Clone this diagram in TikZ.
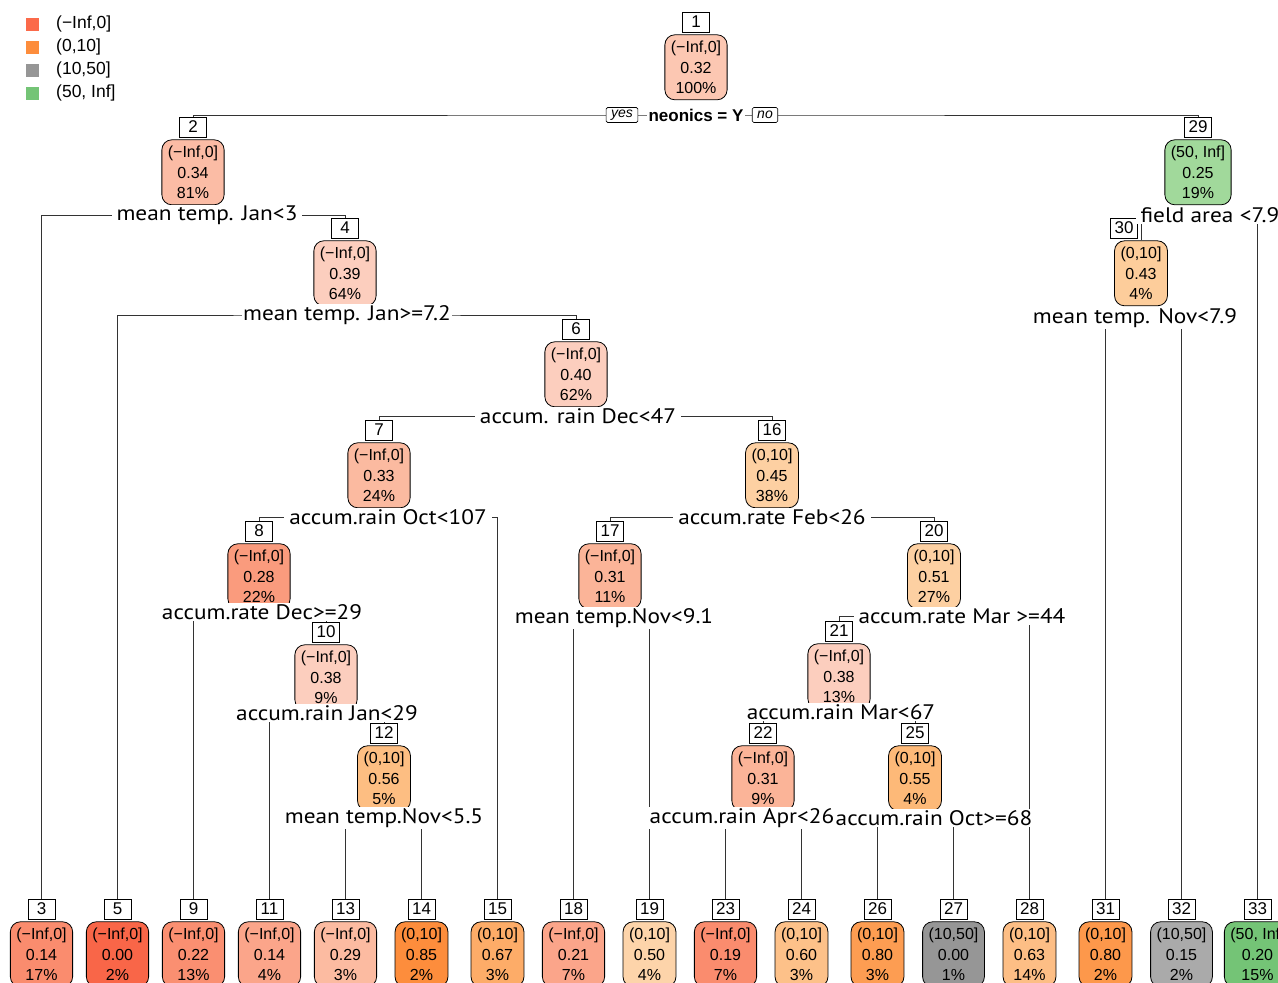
\documentclass[tikz,border=0pt]{standalone}
\usepackage{fontspec}
\setmainfont{Liberation Sans}
\newfontfamily\splitfont[FakeStretch=1.11]{PT Sans}
\usepackage{xcolor}
\usepackage{tikz}
\usetikzlibrary{backgrounds}

\definecolor{keyred}{RGB}{251,106,74}
\definecolor{keyorange}{RGB}{253,141,60}
\definecolor{keygrey}{RGB}{150,150,150}
\definecolor{keygreen}{RGB}{116,196,118}
\definecolor{fill1}{RGB}{252,199,178}
\definecolor{fill2}{RGB}{251,188,165}
\definecolor{fill4}{RGB}{252,206,190}
\definecolor{fill6}{RGB}{252,206,190}
\definecolor{fill7}{RGB}{251,186,160}
\definecolor{fill8}{RGB}{250,155,125}
\definecolor{fill10}{RGB}{252,206,190}
\definecolor{fill12}{RGB}{253,190,130}
\definecolor{fill16}{RGB}{253,208,162}
\definecolor{fill17}{RGB}{251,180,152}
\definecolor{fill20}{RGB}{253,208,162}
\definecolor{fill21}{RGB}{252,206,190}
\definecolor{fill22}{RGB}{251,180,152}
\definecolor{fill25}{RGB}{253,185,120}
\definecolor{fill29}{RGB}{161,217,155}
\definecolor{fill30}{RGB}{253,205,155}
\definecolor{fill3}{RGB}{250,140,110}
\definecolor{fill5}{RGB}{249,102,72}
\definecolor{fill9}{RGB}{250,143,113}
\definecolor{fill11}{RGB}{251,165,138}
\definecolor{fill13}{RGB}{252,187,161}
\definecolor{fill14}{RGB}{253,141,60}
\definecolor{fill15}{RGB}{253,172,104}
\definecolor{fill18}{RGB}{251,165,138}
\definecolor{fill19}{RGB}{253,212,170}
\definecolor{fill23}{RGB}{250,140,110}
\definecolor{fill24}{RGB}{253,193,137}
\definecolor{fill26}{RGB}{253,157,82}
\definecolor{fill27}{RGB}{150,150,150}
\definecolor{fill28}{RGB}{253,190,133}
\definecolor{fill31}{RGB}{253,152,75}
\definecolor{fill32}{RGB}{170,170,170}
\definecolor{fill33}{RGB}{116,196,118}

\begin{document}
\begin{tikzpicture}[x=1pt, y=-1pt,
  numbox/.style={draw, line width=0.8pt, fill=white, minimum width=27, minimum height=20, inner sep=1pt, font=\fontsize{17}{17}\selectfont},
  probbox/.style={draw, line width=0.8pt, rounded corners=10pt, minimum height=65, inner xsep=6pt, inner ysep=2pt, align=center, anchor=north, font=\fontsize{16}{20.5}\selectfont},
  splitlab/.style={fill=white, inner xsep=5pt, inner ysep=1pt, font=\splitfont\fontsize{21}{21}\selectfont},
  yesno/.style={draw, line width=0.6pt, fill=white, rounded corners=1.5pt, minimum height=15, inner xsep=5pt, inner ysep=1pt, font=\itshape\fontsize{14}{14}\selectfont},
  branch/.style={line width=0.9pt, draw=black!80},
  keybox/.style={minimum size=13, inner sep=0pt},
  keytext/.style={anchor=west, inner sep=3pt, font=\fontsize{17.5}{17.5}\selectfont}]
  \useasboundingbox (0,0) rectangle (1278,983);
  \clip (0,0) rectangle (1278,983);
  \node[keybox, fill=keyred] (k1) at (32.5,24) {};
  \node[keybox, fill=keyorange] (k2) at (32.5,47) {};
  \node[keybox, fill=keygrey] (k3) at (32.5,70) {};
  \node[keybox, fill=keygreen] (k4) at (32.5,93) {};
  \node[keytext] (t1) at (53,24) {(−Inf,0]};
  \node[keytext] (t2) at (53,47) {(0,10]};
  \node[keytext] (t3) at (53,70) {(10,50]};
  \node[keytext] (t4) at (53,93) {(50, Inf]};
  \node[numbox] (n1) at (696,22) {1};
  \node[probbox, fill=fill1] (b1) at ([yshift=-2pt]n1.south) {(−Inf,0]\\0.32\\100\%};
  \node[numbox] (n2) at (193,127) {2};
  \node[probbox, fill=fill2] (b2) at ([yshift=-2pt]n2.south) {(−Inf,0]\\0.34\\81\%};
  \node[numbox] (n4) at (345,228) {4};
  \node[probbox, fill=fill4] (b4) at ([yshift=-2pt]n4.south) {(−Inf,0]\\0.39\\64\%};
  \node[numbox] (n6) at (576,329) {6};
  \node[probbox, fill=fill6] (b6) at ([yshift=-2pt]n6.south) {(−Inf,0]\\0.40\\62\%};
  \node[numbox] (n7) at (379,430) {7};
  \node[probbox, fill=fill7] (b7) at ([yshift=-2pt]n7.south) {(−Inf,0]\\0.33\\24\%};
  \node[numbox] (n16) at (772,430) {16};
  \node[probbox, fill=fill16] (b16) at ([yshift=-2pt]n16.south) {(0,10]\\0.45\\38\%};
  \node[numbox] (n8) at (259,531) {8};
  \node[probbox, fill=fill8] (b8) at ([yshift=-2pt]n8.south) {(−Inf,0]\\0.28\\22\%};
  \node[numbox] (n17) at (610,531) {17};
  \node[probbox, fill=fill17] (b17) at ([yshift=-2pt]n17.south) {(−Inf,0]\\0.31\\11\%};
  \node[numbox] (n20) at (934,531) {20};
  \node[probbox, fill=fill20] (b20) at ([yshift=-2pt]n20.south) {(0,10]\\0.51\\27\%};
  \node[numbox] (n10) at (326,632) {10};
  \node[probbox, fill=fill10] (b10) at ([yshift=-2pt]n10.south) {(−Inf,0]\\0.38\\9\%};
  \node[numbox] (n21) at (839,631) {21};
  \node[probbox, fill=fill21] (b21) at ([yshift=-2pt]n21.south) {(−Inf,0]\\0.38\\13\%};
  \node[numbox] (n12) at (384,733) {12};
  \node[probbox, fill=fill12] (b12) at ([yshift=-2pt]n12.south) {(0,10]\\0.56\\5\%};
  \node[numbox] (n22) at (763,733) {22};
  \node[probbox, fill=fill22] (b22) at ([yshift=-2pt]n22.south) {(−Inf,0]\\0.31\\9\%};
  \node[numbox] (n25) at (915,733) {25};
  \node[probbox, fill=fill25] (b25) at ([yshift=-2pt]n25.south) {(0,10]\\0.55\\4\%};
  \node[numbox] (n29) at (1198,127) {29};
  \node[probbox, fill=fill29] (b29) at ([yshift=-2pt]n29.south) {(50, Inf]\\0.25\\19\%};
  \node[numbox] (n30) at (1124,228) {30};
  \node[probbox, fill=fill30] (b30) at ([xshift=17pt, yshift=-2pt]n30.south) {(0,10]\\0.43\\4\%};
  \node[numbox] (n3) at (41.5,909) {3};
  \node[probbox, fill=fill3] (b3) at ([yshift=-2pt]n3.south) {(−Inf,0]\\0.14\\17\%};
  \node[numbox] (n5) at (117.5,909) {5};
  \node[probbox, fill=fill5] (b5) at ([yshift=-2pt]n5.south) {(−Inf,0]\\0.00\\2\%};
  \node[numbox] (n9) at (193.5,909) {9};
  \node[probbox, fill=fill9] (b9) at ([yshift=-2pt]n9.south) {(−Inf,0]\\0.22\\13\%};
  \node[numbox] (n11) at (269.5,909) {11};
  \node[probbox, fill=fill11] (b11) at ([yshift=-2pt]n11.south) {(−Inf,0]\\0.14\\4\%};
  \node[numbox] (n13) at (345.5,909) {13};
  \node[probbox, fill=fill13] (b13) at ([yshift=-2pt]n13.south) {(−Inf,0]\\0.29\\3\%};
  \node[numbox] (n14) at (421.5,909) {14};
  \node[probbox, fill=fill14] (b14) at ([yshift=-2pt]n14.south) {(0,10]\\0.85\\2\%};
  \node[numbox] (n15) at (497.5,909) {15};
  \node[probbox, fill=fill15] (b15) at ([yshift=-2pt]n15.south) {(0,10]\\0.67\\3\%};
  \node[numbox] (n18) at (573.5,909) {18};
  \node[probbox, fill=fill18] (b18) at ([yshift=-2pt]n18.south) {(−Inf,0]\\0.21\\7\%};
  \node[numbox] (n19) at (649.5,909) {19};
  \node[probbox, fill=fill19] (b19) at ([yshift=-2pt]n19.south) {(0,10]\\0.50\\4\%};
  \node[numbox] (n23) at (725.5,909) {23};
  \node[probbox, fill=fill23] (b23) at ([yshift=-2pt]n23.south) {(−Inf,0]\\0.19\\7\%};
  \node[numbox] (n24) at (801.5,909) {24};
  \node[probbox, fill=fill24] (b24) at ([yshift=-2pt]n24.south) {(0,10]\\0.60\\3\%};
  \node[numbox] (n26) at (877.5,909) {26};
  \node[probbox, fill=fill26] (b26) at ([yshift=-2pt]n26.south) {(0,10]\\0.80\\3\%};
  \node[numbox] (n27) at (953.5,909) {27};
  \node[probbox, fill=fill27] (b27) at ([yshift=-2pt]n27.south) {(10,50]\\0.00\\1\%};
  \node[numbox] (n28) at (1029.5,909) {28};
  \node[probbox, fill=fill28] (b28) at ([yshift=-2pt]n28.south) {(0,10]\\0.63\\14\%};
  \node[numbox] (n31) at (1105.5,909) {31};
  \node[probbox, fill=fill31] (b31) at ([yshift=-2pt]n31.south) {(0,10]\\0.80\\2\%};
  \node[numbox] (n32) at (1181.5,909) {32};
  \node[probbox, fill=fill32] (b32) at ([yshift=-2pt]n32.south) {(10,50]\\0.15\\2\%};
  \node[numbox] (n33) at (1257.5,909) {33};
  \node[probbox, fill=fill33] (b33) at ([yshift=-2pt]n33.south) {(50, Inf]\\0.20\\15\%};
  \node[fill=white, inner xsep=2pt, inner ysep=1pt, font=\bfseries\fontsize{17}{17}\selectfont] (s1) at (696,115) {neonics = Y};
  \node[yesno] (yes1) at (622,115) {yes};
  \node[yesno] (no1) at (765,115) {no};
  \node[splitlab] (s2) at (207,215) {mean temp. Jan<3};
  \node[splitlab, inner xsep=1pt] (s4) at (347,315) {mean temp. Jan>=7.2};
  \node[splitlab] (s6) at (578,416) {accum. rain Dec<47};
  \node[splitlab] (s7) at (388,517) {accum.rain Oct<107};
  \node[splitlab] (s16) at (772,517) {accum.rate Feb<26};
  \node[splitlab] (s8) at (262,612) {accum.rate Dec>=29};
  \node[splitlab] (s17) at (614,618) {mean temp.Nov<9.1};
  \node[splitlab] (s20) at (962,616) {accum.rate Mar >=44};
  \node[splitlab] (s10) at (327,713) {accum.rain Jan<29};
  \node[splitlab] (s21) at (841,712) {accum.rain Mar<67};
  \node[splitlab] (s12) at (384,818) {mean temp.Nov<5.5};
  \node[splitlab, inner xsep=1pt] (s22) at (742,818) {accum.rain Apr<26};
  \node[splitlab, inner xsep=1pt] (s25) at (934,818) {accum.rain Oct>=68};
  \node[splitlab] (s29) at (1210,215) {field area <7.9};
  \node[splitlab] (s30) at (1135,318) {mean temp. Nov<7.9};
  \begin{scope}[on background layer]
    \draw[branch] (n2.north) |- (s1.center) -| (n29.north);
    \draw[branch] (n3.north) |- (s2.center) -| (n4.north);
    \draw[branch] (n5.north) |- (s4.center) -| (n6.north);
    \draw[branch] (n7.north) |- (s6.center) -| (n16.north);
    \draw[branch] (n8.north) |- (s7.center) -| (n15.north);
    \draw[branch] (n9.north) |- (s8.center) -| (n10.north);
    \draw[branch] (n11.north) |- (s10.center) -| (n12.north);
    \draw[branch] (n13.north) |- (s12.center) -| (n14.north);
    \draw[branch] (n17.north) |- (s16.center) -| (n20.north);
    \draw[branch] (n18.north) |- (s17.center) -| (n19.north);
    \draw[branch] (n21.north) |- (s20.center) -| (n28.north);
    \draw[branch] (n22.north) |- (s21.center) -| (n25.north);
    \draw[branch] (n23.north) |- (s22.center) -| (n24.north);
    \draw[branch] (n26.north) |- (s25.center) -| (n27.north);
    \draw[branch] (b30.north) |- (s29.center) -| (n33.north);
    \draw[branch] (n31.north) |- (s30.center) -| (n32.north);
  \end{scope}
\end{tikzpicture}
\end{document}
